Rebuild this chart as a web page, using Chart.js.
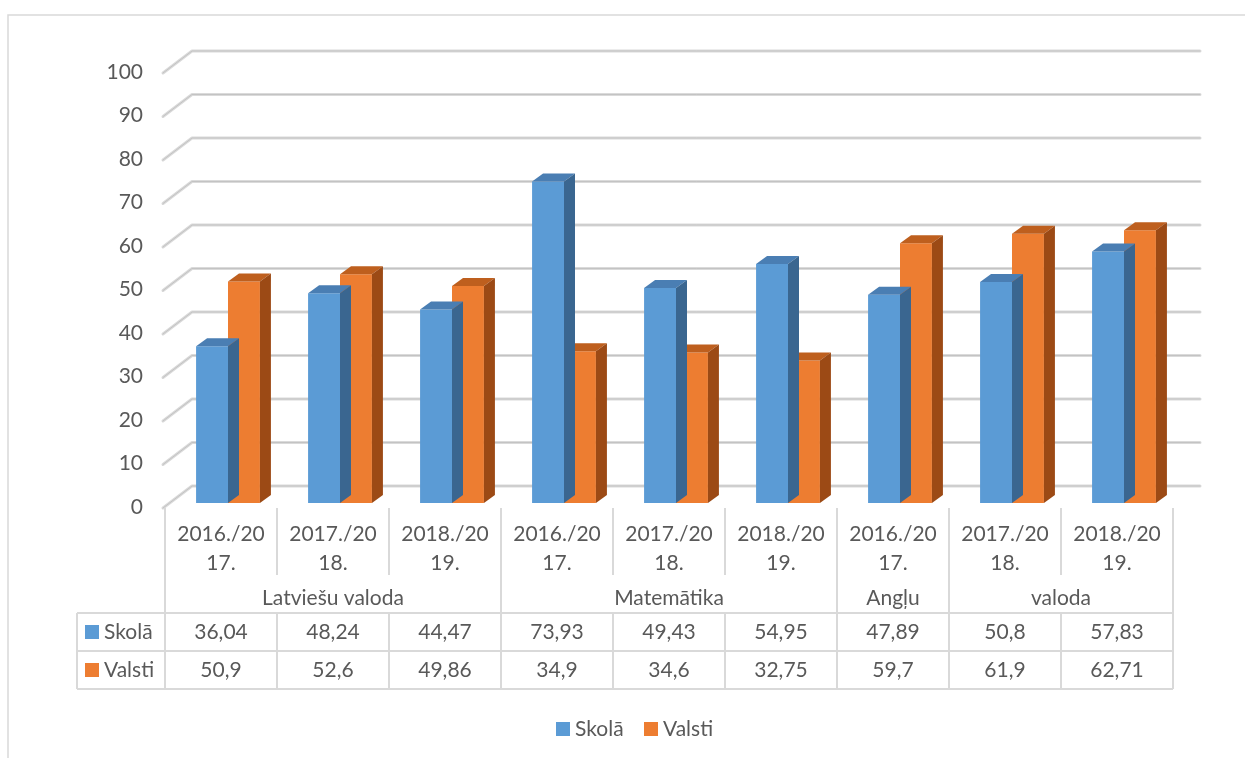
<!DOCTYPE html>
<html>
<head>
<meta charset="utf-8">
<script src="https://cdn.jsdelivr.net/npm/chart.js@4.4.1/dist/chart.umd.min.js"></script>
<style>
    html, body { margin: 0; padding: 0; background: #fff; }
    #wrap { width: 1245px; height: 758px; position: relative; }
</style>
</head>
<body>
<div id="wrap"><canvas id="resultChart"></canvas></div>
<script>
const categories = [
    ['2016./20', '17.'], ['2017./20', '18.'], ['2018./20', '19.'],
    ['2016./20', '17.'], ['2017./20', '18.'], ['2018./20', '19.'],
    ['2016./20', '17.'], ['2017./20', '18.'], ['2018./20', '19.']
];
const groupLabels = ['Latviešu valoda', 'Matemātika', 'Angļu', 'valoda'];
const groupSpans = [3, 3, 1, 2];
const skola = [36.04, 48.24, 44.47, 73.93, 49.43, 54.95, 47.89, 50.8, 57.83];
const valsti = [50.9, 52.6, 49.86, 34.9, 34.6, 32.75, 59.7, 61.9, 62.71];
const yTicks = [0, 10, 20, 30, 40, 50, 60, 70, 80, 90, 100];

const TEXT = '#595959';
const LINE = '#D9D9D9';
const FONT = '21px Lato';

// bars sit a bit behind the front plane, walls further back
const BAR_SHIFT = { x: 7, y: -4 };
const BAR_DEPTH = { x: 11, y: -8 };
const WALL = { x: 27, y: -21 };

const faceColors = [
    { top: '#4A7EB3', side: '#3A6690' },
    { top: '#BE5F1E', side: '#9C4A15' }
];

function fmt(v) {
    return String(v).replace('.', ',');
}

const backWall = {
    id: 'backWall',
    beforeDatasetsDraw(chart) {
        const ctx = chart.ctx;
        const area = chart.chartArea;
        const y = chart.scales.y;
        ctx.save();
        yTicks.forEach(function (v) {
            const py = y.getPixelForValue(v);
            ctx.beginPath();
            ctx.moveTo(area.left - 2, py + 1);
            ctx.lineTo(area.left + WALL.x, py + WALL.y);
            ctx.lineTo(area.right + WALL.x, py + WALL.y);
            ctx.lineCap = 'round';
            ctx.lineJoin = 'round';
            ctx.strokeStyle = '#DADADA';
            ctx.lineWidth = 3;
            ctx.stroke();
            ctx.strokeStyle = '#C3C3C3';
            ctx.lineWidth = 1;
            ctx.stroke();
        });
        ctx.restore();
    }
};

const bars3d = {
    id: 'bars3d',
    beforeDatasetDraw(chart) {
        chart.ctx.save();
        chart.ctx.translate(BAR_SHIFT.x, BAR_SHIFT.y);
    },
    afterDatasetDraw(chart, args) {
        const ctx = chart.ctx;
        const c = faceColors[args.index];
        args.meta.data.forEach(function (el) {
            const p = el.getProps(['x', 'y', 'base', 'width'], true);
            const l = p.x - p.width / 2;
            const r = p.x + p.width / 2;
            ctx.fillStyle = c.top;
            ctx.beginPath();
            ctx.moveTo(l, p.y);
            ctx.lineTo(r, p.y);
            ctx.lineTo(r + BAR_DEPTH.x, p.y + BAR_DEPTH.y);
            ctx.lineTo(l + BAR_DEPTH.x, p.y + BAR_DEPTH.y);
            ctx.closePath();
            ctx.fill();
            ctx.fillStyle = c.side;
            ctx.beginPath();
            ctx.moveTo(r, p.y);
            ctx.lineTo(r + BAR_DEPTH.x, p.y + BAR_DEPTH.y);
            ctx.lineTo(r + BAR_DEPTH.x, p.base + BAR_DEPTH.y);
            ctx.lineTo(r, p.base);
            ctx.closePath();
            ctx.fill();
        });
        ctx.restore();
    }
};

const dataTable = {
    id: 'dataTable',
    afterDraw(chart) {
        const ctx = chart.ctx;
        const area = chart.chartArea;
        const x = chart.scales.x;
        const colW = (area.right - area.left) / categories.length;
        const top = area.bottom + 1;
        const catBottom = top + 67;
        const row1 = top + 105;
        const row2 = row1 + 38;
        const row3 = row2 + 38;
        const keyLeft = 77;

        ctx.save();
        // outer chart frame (top and left only are visible)
        ctx.strokeStyle = LINE;
        ctx.lineWidth = 1.5;
        ctx.beginPath();
        ctx.moveTo(8, 758);
        ctx.lineTo(8, 15);
        ctx.lineTo(1245, 15);
        ctx.stroke();

        ctx.lineWidth = 2;
        ctx.beginPath();
        ctx.moveTo(area.left, top);
        ctx.lineTo(area.left, row3);
        ctx.moveTo(area.right, top);
        ctx.lineTo(area.right, row3);
        ctx.moveTo(keyLeft, row1);
        ctx.lineTo(keyLeft, row3);
        [row1, row2, row3].forEach(function (ry) {
            ctx.moveTo(keyLeft, ry);
            ctx.lineTo(area.right, ry);
        });
        let edges = [];
        let acc = 0;
        groupSpans.forEach(function (s) { acc += s; edges.push(acc); });
        for (let i = 1; i < categories.length; i++) {
            const bx = area.left + i * colW;
            ctx.moveTo(bx, top);
            if (edges.indexOf(i) >= 0) {
                ctx.lineTo(bx, row3);
            } else {
                ctx.lineTo(bx, catBottom);
                ctx.moveTo(bx, row1);
                ctx.lineTo(bx, row3);
            }
        }
        ctx.stroke();

        ctx.fillStyle = TEXT;
        ctx.font = FONT;
        ctx.textAlign = 'center';
        ctx.textBaseline = 'middle';
        categories.forEach(function (lab, i) {
            const cx = x.getPixelForValue(i);
            ctx.fillText(lab[0], cx, top + 26);
            ctx.fillText(lab[1], cx, top + 55);
            ctx.fillText(fmt(skola[i]), cx, row1 + 19);
            ctx.fillText(fmt(valsti[i]), cx, row2 + 19);
        });
        let start = 0;
        groupLabels.forEach(function (g, k) {
            const gx = area.left + (start + groupSpans[k] / 2) * colW;
            ctx.fillText(g, gx, top + 90);
            start += groupSpans[k];
        });

        // series keys in the table and the legend under it
        ctx.textAlign = 'left';
        const legendX = [556, 644];
        chart.data.datasets.forEach(function (ds, k) {
            const ry = (k === 0 ? row1 : row2) + 19;
            ctx.fillStyle = ds.backgroundColor;
            ctx.fillRect(keyLeft + 8, ry - 7, 14, 14);
            ctx.fillRect(legendX[k], 722, 14, 14);
            ctx.fillStyle = TEXT;
            ctx.fillText(ds.label, keyLeft + 27, ry);
            ctx.fillText(ds.label, legendX[k] + 19, 729);
        });
        ctx.restore();
    }
};

const ctx = document.getElementById('resultChart').getContext('2d');
const chart = new Chart(ctx, {
    type: 'bar',
    data: {
        labels: categories,
        datasets: [{
            label: 'Skolā',
            data: skola,
            backgroundColor: '#5B9BD5',
            borderWidth: 0,
            clip: false
        }, {
            label: 'Valsti',
            data: valsti,
            backgroundColor: '#ED7D31',
            borderWidth: 0,
            clip: false
        }]
    },
    options: {
        responsive: true,
        maintainAspectRatio: false,
        animation: false,
        events: [],
        layout: {
            padding: { left: 0, right: 72, top: 72, bottom: 0 }
        },
        datasets: {
            bar: { categoryPercentage: 0.57, barPercentage: 1.0 }
        },
        scales: {
            x: {
                grid: { display: false },
                border: { display: false },
                ticks: { display: false },
                afterFit: function (scale) {
                    scale.height = scale.chart.height - 507;
                }
            },
            y: {
                min: 0,
                max: 100,
                grid: { display: false, drawTicks: false },
                border: { display: false },
                ticks: {
                    stepSize: 10,
                    padding: 22,
                    color: TEXT,
                    font: { family: 'Lato', size: 21 }
                },
                afterFit: function (scale) {
                    scale.width = 165;
                }
            }
        },
        plugins: {
            legend: { display: false },
            tooltip: { enabled: false }
        }
    },
    plugins: [backWall, bars3d, dataTable]
});
</script>
</body>
</html>
